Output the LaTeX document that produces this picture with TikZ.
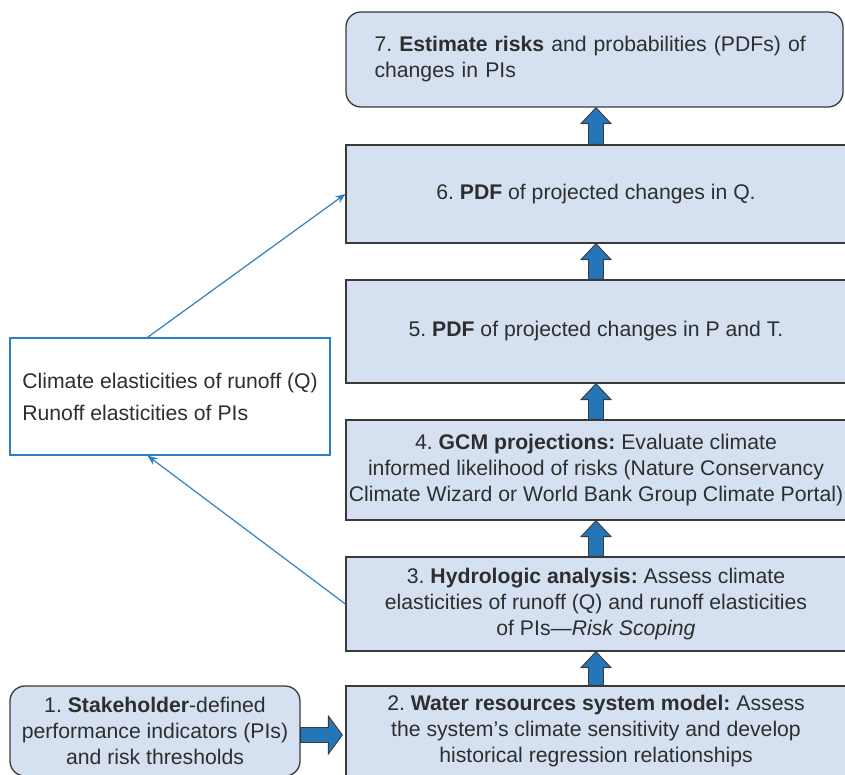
\documentclass[tikz,border=0pt]{standalone}
\usepackage{fontspec}
\setmainfont{Liberation Sans}
\usetikzlibrary{positioning}
\usetikzlibrary{arrows.meta}
\usetikzlibrary{calc}
\definecolor{boxfill}{HTML}{D5E1F1}
\definecolor{boxline}{HTML}{3A3A3A}
\definecolor{arrowfill}{HTML}{2576B8}
\definecolor{linkblue}{HTML}{2F80C2}
\definecolor{textgray}{HTML}{2E2E2E}
\frenchspacing
\tikzset{
    stepbox/.style = {draw=boxline, line width=1.3pt, fill=boxfill, text=textgray, align=center, minimum width=500pt, inner sep=3pt, font=\fontsize{21.2}{26}\selectfont},
    stepboxr/.style = {stepbox, rounded corners=15pt},
    notebox/.style = {draw=linkblue, line width=1.2pt, fill=white, text=textgray, align=left, minimum width=320pt, minimum height=117pt, font=\fontsize{21.2}{32}\selectfont},
    blockarrow/.style = {draw=boxline, line width=0.9pt, fill=arrowfill},
    blockup/.style = {blockarrow, to path={let \p1=(\tikztostart), \p2=(\tikztotarget) in
        (\x1-7.5pt,\y1) -- (\x1-7.5pt,\y2-16pt) -- (\x1-15pt,\y2-16pt) -- (\x1,\y2)
        -- (\x1+15pt,\y2-16pt) -- (\x1+7.5pt,\y2-16pt) -- (\x1+7.5pt,\y1) -- cycle}},
    blockright/.style = {blockarrow, to path={let \p1=(\tikztostart), \p2=(\tikztotarget) in
        (\x1,\y1+7.5pt) -- (\x2-14pt,\y1+7.5pt) -- (\x2-14pt,\y1+19pt) -- (\x2,\y1)
        -- (\x2-14pt,\y1-19pt) -- (\x2-14pt,\y1-7.5pt) -- (\x1,\y1-7.5pt) -- cycle}},
    linkn/.style = {-{Stealth[length=10pt,width=8pt]}, line width=1.2pt, draw=linkblue}
}

\begin{document}
\begin{tikzpicture}[x=1pt,y=-1pt]
\useasboundingbox (0,0) rectangle (845,775);

% right column
\node[stepboxr, minimum width=497pt, minimum height=95pt, align=left, text width=440pt] at (594.5,59.5) (b7) {7. \textbf{Estimate risks} and probabilities (PDFs) of\\ changes in PIs};
\node[stepbox, minimum height=98pt] at (596,194) (b6) {6. \textbf{PDF} of projected changes in Q.};
\node[stepbox, minimum height=103pt] at (596,331.5) (b5) {5. \textbf{PDF} of projected changes in P and T.};
\node[stepbox, minimum height=100pt, inner xsep=0pt] at (596,470) (b4) {4. \textbf{GCM projections:} Evaluate climate\\ informed likelihood of risks (Nature Conservancy\\ Climate Wizard or World Bank Group Climate Portal)};
\node[stepbox, minimum height=94pt] at (596,604) (b3) {3. \textbf{Hydrologic analysis:} Assess climate\\ elasticities of runoff (Q) and runoff elasticities\\ of PIs---\textit{Risk Scoping}};
\node[stepbox, minimum height=90pt] at (596,731) (b2) {2. \textbf{Water resources system model:} Assess\\ the system’s climate sensitivity and develop\\ historical regression relationships};

% left column
\node[stepboxr, minimum width=290pt, minimum height=90pt] at (155,731) (b1) {1. \textbf{Stakeholder}-defined\\ performance indicators (PIs)\\ and risk thresholds};
\node[notebox] at (170,396.5) (clim) {Climate elasticities of runoff (Q)\\ Runoff elasticities of PIs};

% block arrows
\draw[blockright] ([yshift=-4pt]b1.east) to ([xshift=-3pt,yshift=-4pt]b2.west);
\draw[blockup] (b2.north) to (b3.south);
\draw[blockup] (b3.north) to (b4.south);
\draw[blockup] (b4.north) to (b5.south);
\draw[blockup] (b5.north) to (b6.south);
\draw[blockup] (b6.north) to (b7.south);

% elasticity links
\draw[linkn] ($(clim.north west)!0.43!(clim.north east)$) -- (b6.west);
\draw[linkn] (b3.west) -- ($(clim.south west)!0.43!(clim.south east)$);

\end{tikzpicture}
\end{document}
